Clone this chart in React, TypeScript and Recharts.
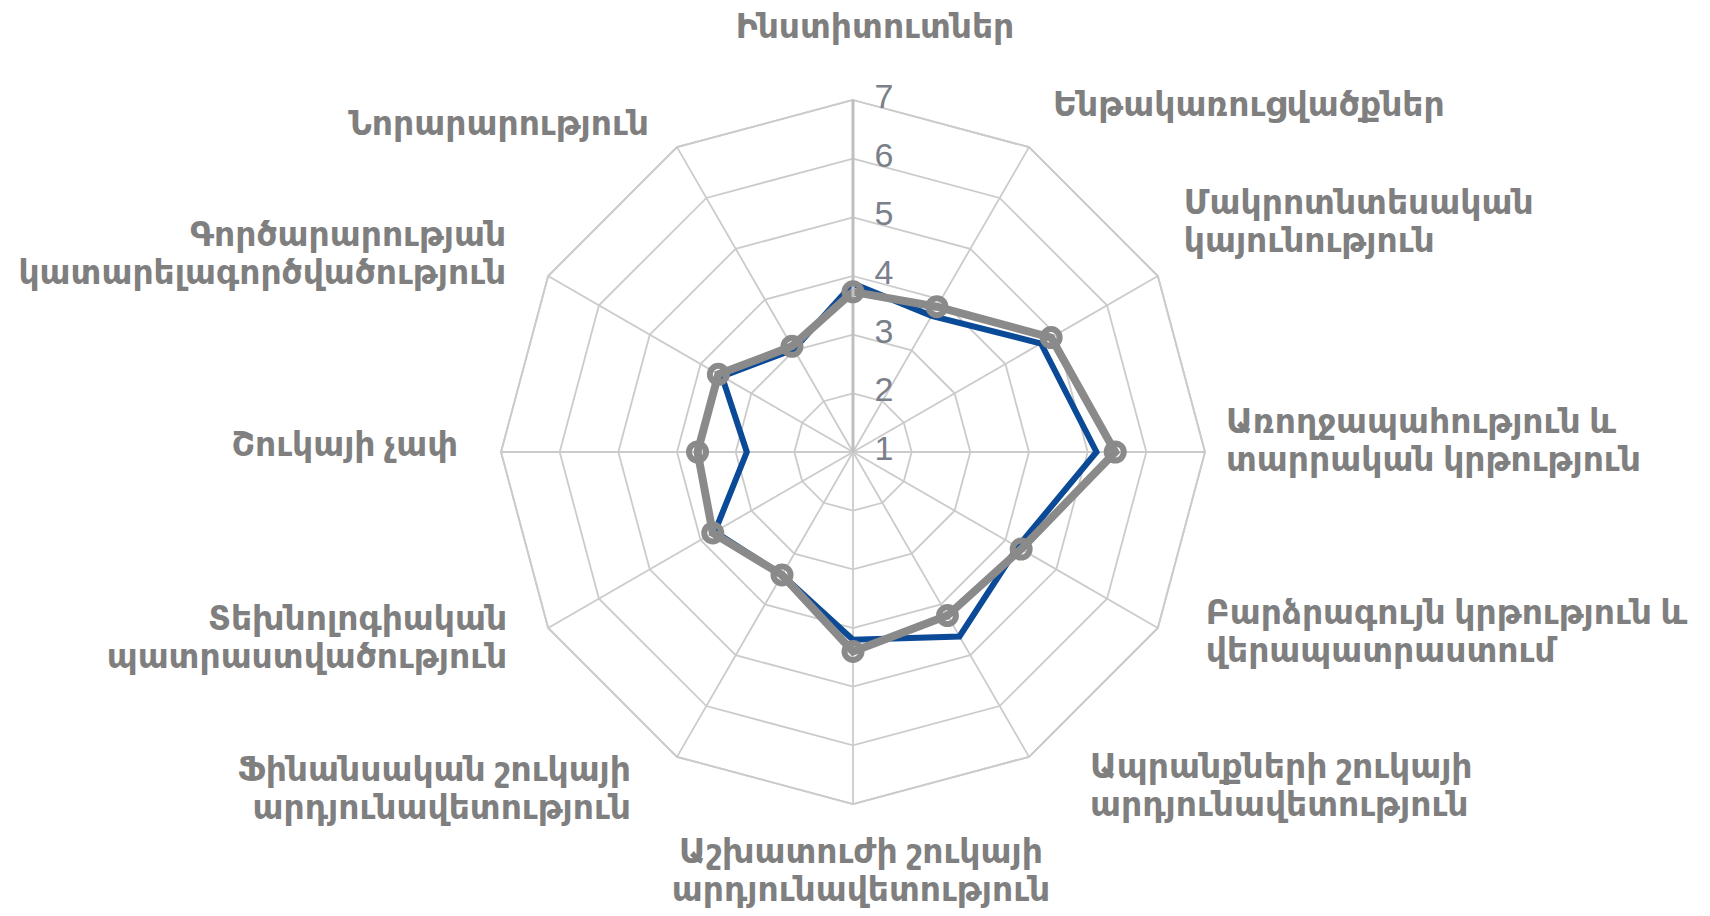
import React from 'react';
import { RadarChart, Radar, PolarGrid, PolarAngleAxis, PolarRadiusAxis } from 'recharts';

const categories = [
  'Ինստիտուտներ',
  'Ենթակառուցվածքներ',
  'Մակրոտնտեսական\nկայունություն',
  'Առողջապահություն և\nտարրական կրթություն',
  'Բարձրագույն կրթություն և\nվերապատրաստում',
  'Ապրանքների շուկայի\nարդյունավետություն',
  'Աշխատուժի շուկայի\nարդյունավետություն',
  'Ֆինանսական շուկայի\nարդյունավետություն',
  'Տեխնոլոգիական\nպատրաստվածություն',
  'Շուկայի չափ',
  'Գործարարության\nկատարելագործվածություն',
  'Նորարարություն',
];

const grayValues = [3.73, 3.86, 4.9, 5.47, 4.31, 4.22, 4.4, 3.42, 3.76, 3.65, 3.65, 3.08];
const blueValues = [3.87, 3.68, 4.7, 5.15, 4.24, 4.63, 4.2, 3.42, 3.72, 2.81, 3.58, 3.02];
const radiusTicks = [1, 2, 3, 4, 5, 6, 7];

const data = categories.map((name, i) => ({ name, gray: grayValues[i], blue: blueValues[i] }));

const W = 1710;
const H = 916;
const CX = 853;
const CY = 452;
const R = 352;

const LABEL_FONT = '"Noto Sans", "DejaVu Sans", sans-serif';
const LABEL_SIZE = 33;
const LINE_H = 38;

// offsets of the label block relative to the angle-axis tick point
const LABEL_LAYOUT = [
  { anchor: 'middle', dx: 22, dy: -67 },
  { anchor: 'start', dx: 20, dy: -37 },
  { anchor: 'start', dx: 19, dy: -71 },
  { anchor: 'start', dx: 13, dy: -32 },
  { anchor: 'start', dx: 41, dy: -21 },
  { anchor: 'start', dx: 57, dy: 1 },
  { anchor: 'middle', dx: 8, dy: 38 },
  { anchor: 'end', dx: -42, dy: 4 },
  { anchor: 'end', dx: -34, dy: -15 },
  { anchor: 'end', dx: -35, dy: -9 },
  { anchor: 'end', dx: -35, dy: -39 },
  { anchor: 'end', dx: -24, dy: -18 },
];

function AngleTick(props: any) {
  const { x, y, index, payload } = props;
  const lay = LABEL_LAYOUT[index] || { anchor: 'middle', dx: 0, dy: 0 };
  const lines = String(payload.value).split('\n');
  const tx = x + lay.dx;
  const ty = y + lay.dy;
  return (
    <text
      x={tx}
      y={ty}
      textAnchor={lay.anchor}
      dominantBaseline="central"
      fill="#7f7f7f"
      fontSize={LABEL_SIZE}
      fontWeight={700}
      fontFamily={LABEL_FONT}
    >
      {lines.map((l, i) => (
        <tspan key={i} x={tx} y={ty + i * LINE_H}>
          {l}
        </tspan>
      ))}
    </text>
  );
}

function RadiusTick(props: any) {
  const { x, y, payload } = props;
  return (
    <text
      x={x + 31}
      y={y - 4}
      textAnchor="middle"
      dominantBaseline="central"
      fill="#7a7f8a"
      fontSize={34}
      fontFamily='"Liberation Sans Narrow", "Liberation Sans", sans-serif'
    >
      {payload.value}
    </text>
  );
}

export default function App() {
  return (
    <div style={{ position: 'absolute', left: 0, top: 0, width: W, height: H, background: '#ffffff' }}>
      <RadarChart
        width={W}
        height={H}
        data={data}
        cx={CX}
        cy={CY}
        outerRadius={R}
        margin={{ top: 0, right: 0, bottom: 0, left: 0 }}
      >
        <PolarGrid gridType="polygon" stroke="#cbcbcb" strokeWidth={1.8} />
        <PolarAngleAxis
          dataKey="name"
          tick={<AngleTick />}
          tickLine={false}
          axisLine={{ stroke: '#cbcbcb', strokeWidth: 1.8 }}
        />
        <PolarRadiusAxis
          angle={90}
          domain={[1, 7]}
          ticks={radiusTicks}
          tickCount={7}
          axisLine={{ stroke: '#bfbfbf', strokeWidth: 3 }}
          tickLine={false}
          tick={<RadiusTick />}
        />
        <Radar
          dataKey="blue"
          stroke="#0b4a96"
          strokeWidth={6}
          fill="none"
          fillOpacity={0}
          dot={false}
          isAnimationActive={false}
        />
        <Radar
          dataKey="gray"
          stroke="#8a8a8a"
          strokeWidth={8}
          fill="none"
          fillOpacity={0}
          dot={{ r: 8.5, fill: '#ffffff', stroke: '#8a8a8a', strokeWidth: 6 }}
          isAnimationActive={false}
        />
      </RadarChart>
    </div>
  );
}
